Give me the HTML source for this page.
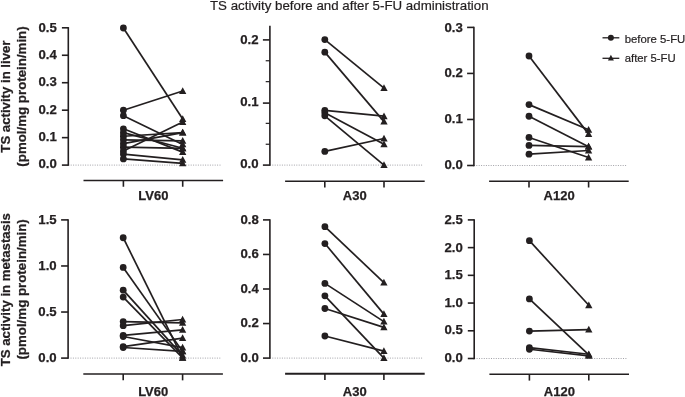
<!DOCTYPE html>
<html><head><meta charset="utf-8"><title>TS activity</title>
<style>html,body{margin:0;padding:0;background:#fff}svg{display:block;will-change:transform}text{font-family:"Liberation Sans",sans-serif;fill:#231f20}.b{stroke:#231f20;stroke-width:0.25px}.r{stroke:#231f20;stroke-width:0.2px}</style></head><body>
<svg width="685" height="397" viewBox="0 0 685 397">
<rect width="685" height="397" fill="#fff"/>
<text x="210.0" y="10.1" font-size="13.3" class="r">TS activity before and after 5-FU administration</text>
<text transform="translate(10.0 96.6) rotate(-90)" font-size="13.2" font-weight="bold" text-anchor="middle" class="b">TS activity in liver</text>
<text transform="translate(25.6 96.5) rotate(-90)" font-size="13.3" font-weight="bold" text-anchor="middle" class="b">(pmol/mg protein/min)</text>
<text transform="translate(10.0 289.65) rotate(-90)" font-size="13.2" font-weight="bold" text-anchor="middle" class="b">TS activity in metastasis</text>
<text transform="translate(25.6 289.4) rotate(-90)" font-size="13.3" font-weight="bold" text-anchor="middle" class="b">(pmol/mg protein/min)</text>
<g><line x1="68.3" y1="165.1" x2="221.50" y2="165.1" stroke="#a2a2a8" stroke-width="1" stroke-dasharray="1 1.4"/>
<line x1="68.3" y1="27.10" x2="68.3" y2="165.80" stroke="#231f20" stroke-width="1.6"/>
<line x1="61.90" y1="165.10" x2="68.30" y2="165.10" stroke="#231f20" stroke-width="1.6"/>
<text x="56.75" y="168.00" font-size="13.2" font-weight="bold" text-anchor="end" class="b">0.0</text>
<line x1="61.90" y1="137.64" x2="68.30" y2="137.64" stroke="#231f20" stroke-width="1.6"/>
<text x="56.75" y="140.82" font-size="13.2" font-weight="bold" text-anchor="end" class="b">0.1</text>
<line x1="61.90" y1="110.18" x2="68.30" y2="110.18" stroke="#231f20" stroke-width="1.6"/>
<text x="56.75" y="113.64" font-size="13.2" font-weight="bold" text-anchor="end" class="b">0.2</text>
<line x1="61.90" y1="82.72" x2="68.30" y2="82.72" stroke="#231f20" stroke-width="1.6"/>
<text x="56.75" y="86.46" font-size="13.2" font-weight="bold" text-anchor="end" class="b">0.3</text>
<line x1="61.90" y1="55.26" x2="68.30" y2="55.26" stroke="#231f20" stroke-width="1.6"/>
<text x="56.75" y="59.28" font-size="13.2" font-weight="bold" text-anchor="end" class="b">0.4</text>
<line x1="61.90" y1="27.80" x2="68.30" y2="27.80" stroke="#231f20" stroke-width="1.6"/>
<text x="56.75" y="32.10" font-size="13.2" font-weight="bold" text-anchor="end" class="b">0.5</text>
<line x1="83.50" y1="180.45" x2="223.10" y2="180.45" stroke="#231f20" stroke-width="1.5"/>
<line x1="123.40" y1="180.45" x2="123.40" y2="186.75" stroke="#231f20" stroke-width="1.6"/>
<line x1="182.70" y1="180.45" x2="182.70" y2="186.75" stroke="#231f20" stroke-width="1.6"/>
<text x="153.35" y="200.4" font-size="13.0" font-weight="bold" text-anchor="middle" class="b">LV60</text>
<line x1="123.40" y1="28.00" x2="182.70" y2="118.97" stroke="#231f20" stroke-width="1.7"/>
<line x1="123.40" y1="110.20" x2="182.70" y2="91.02" stroke="#231f20" stroke-width="1.7"/>
<line x1="123.40" y1="115.68" x2="182.70" y2="144.45" stroke="#231f20" stroke-width="1.7"/>
<line x1="123.40" y1="128.83" x2="182.70" y2="152.12" stroke="#231f20" stroke-width="1.7"/>
<line x1="123.40" y1="132.67" x2="182.70" y2="148.29" stroke="#231f20" stroke-width="1.7"/>
<line x1="123.40" y1="136.23" x2="182.70" y2="132.67" stroke="#231f20" stroke-width="1.7"/>
<line x1="123.40" y1="139.79" x2="182.70" y2="140.89" stroke="#231f20" stroke-width="1.7"/>
<line x1="123.40" y1="143.63" x2="182.70" y2="132.67" stroke="#231f20" stroke-width="1.7"/>
<line x1="123.40" y1="147.19" x2="182.70" y2="148.29" stroke="#231f20" stroke-width="1.7"/>
<line x1="123.40" y1="151.03" x2="182.70" y2="121.98" stroke="#231f20" stroke-width="1.7"/>
<line x1="123.40" y1="154.04" x2="182.70" y2="159.79" stroke="#231f20" stroke-width="1.7"/>
<line x1="123.40" y1="158.97" x2="182.70" y2="163.36" stroke="#231f20" stroke-width="1.7"/>
<circle cx="123.40" cy="28.00" r="3.4" fill="#231f20"/>
<g fill="#231f20"><path d="M179.05 121.89L186.35 121.89L182.70 115.14Z"/></g>
<circle cx="123.40" cy="110.20" r="3.4" fill="#231f20"/>
<g fill="#231f20"><path d="M179.05 93.94L186.35 93.94L182.70 87.19Z"/></g>
<circle cx="123.40" cy="115.68" r="3.4" fill="#231f20"/>
<g fill="#231f20"><path d="M179.05 147.37L186.35 147.37L182.70 140.62Z"/></g>
<circle cx="123.40" cy="128.83" r="3.4" fill="#231f20"/>
<g fill="#231f20"><path d="M179.05 155.04L186.35 155.04L182.70 148.29Z"/></g>
<circle cx="123.40" cy="132.67" r="3.4" fill="#231f20"/>
<g fill="#231f20"><path d="M179.05 151.21L186.35 151.21L182.70 144.45Z"/></g>
<circle cx="123.40" cy="136.23" r="3.4" fill="#231f20"/>
<g fill="#231f20"><path d="M179.05 135.59L186.35 135.59L182.70 128.84Z"/></g>
<circle cx="123.40" cy="139.79" r="3.4" fill="#231f20"/>
<g fill="#231f20"><path d="M179.05 143.81L186.35 143.81L182.70 137.06Z"/></g>
<circle cx="123.40" cy="143.63" r="3.4" fill="#231f20"/>
<g fill="#231f20"><path d="M179.05 135.59L186.35 135.59L182.70 128.84Z"/></g>
<circle cx="123.40" cy="147.19" r="3.4" fill="#231f20"/>
<g fill="#231f20"><path d="M179.05 151.21L186.35 151.21L182.70 144.45Z"/></g>
<circle cx="123.40" cy="151.03" r="3.4" fill="#231f20"/>
<g fill="#231f20"><path d="M179.05 124.90L186.35 124.90L182.70 118.15Z"/></g>
<circle cx="123.40" cy="154.04" r="3.4" fill="#231f20"/>
<g fill="#231f20"><path d="M179.05 162.71L186.35 162.71L182.70 155.96Z"/></g>
<circle cx="123.40" cy="158.97" r="3.4" fill="#231f20"/>
<g fill="#231f20"><path d="M179.05 166.28L186.35 166.28L182.70 159.52Z"/></g></g>
<g><line x1="269.9" y1="165.1" x2="423.10" y2="165.1" stroke="#a2a2a8" stroke-width="1" stroke-dasharray="1 1.4"/>
<line x1="269.9" y1="25.70" x2="269.9" y2="165.80" stroke="#231f20" stroke-width="1.6"/>
<line x1="262.90" y1="165.10" x2="269.90" y2="165.10" stroke="#231f20" stroke-width="1.6"/>
<text x="258.55" y="168.20" font-size="13.2" font-weight="bold" text-anchor="end" class="b">0.0</text>
<line x1="262.90" y1="103.10" x2="269.90" y2="103.10" stroke="#231f20" stroke-width="1.6"/>
<text x="258.55" y="105.85" font-size="13.2" font-weight="bold" text-anchor="end" class="b">0.1</text>
<line x1="262.90" y1="39.90" x2="269.90" y2="39.90" stroke="#231f20" stroke-width="1.6"/>
<text x="258.55" y="43.50" font-size="13.2" font-weight="bold" text-anchor="end" class="b">0.2</text>
<line x1="265.70" y1="144.25" x2="269.90" y2="144.25" stroke="#231f20" stroke-width="1.2"/>
<line x1="265.70" y1="123.35" x2="269.90" y2="123.35" stroke="#231f20" stroke-width="1.2"/>
<line x1="265.70" y1="81.65" x2="269.90" y2="81.65" stroke="#231f20" stroke-width="1.2"/>
<line x1="265.70" y1="60.75" x2="269.90" y2="60.75" stroke="#231f20" stroke-width="1.2"/>
<line x1="285.10" y1="181.2" x2="424.70" y2="181.2" stroke="#231f20" stroke-width="1.5"/>
<line x1="324.80" y1="181.2" x2="324.80" y2="187.50" stroke="#231f20" stroke-width="1.6"/>
<line x1="384.00" y1="181.2" x2="384.00" y2="187.50" stroke="#231f20" stroke-width="1.6"/>
<text x="354.70" y="200.4" font-size="13.0" font-weight="bold" text-anchor="middle" class="b">A30</text>
<line x1="324.80" y1="39.60" x2="384.00" y2="88.14" stroke="#231f20" stroke-width="1.7"/>
<line x1="324.80" y1="52.16" x2="384.00" y2="121.62" stroke="#231f20" stroke-width="1.7"/>
<line x1="324.80" y1="110.31" x2="384.00" y2="116.22" stroke="#231f20" stroke-width="1.7"/>
<line x1="324.80" y1="112.82" x2="384.00" y2="144.29" stroke="#231f20" stroke-width="1.7"/>
<line x1="324.80" y1="115.84" x2="384.00" y2="165.20" stroke="#231f20" stroke-width="1.7"/>
<line x1="324.80" y1="151.38" x2="384.00" y2="138.51" stroke="#231f20" stroke-width="1.7"/>
<circle cx="324.80" cy="39.60" r="3.4" fill="#231f20"/>
<g fill="#231f20"><path d="M380.35 91.06L387.65 91.06L384.00 84.31Z"/></g>
<circle cx="324.80" cy="52.16" r="3.4" fill="#231f20"/>
<g fill="#231f20"><path d="M380.35 124.54L387.65 124.54L384.00 117.78Z"/></g>
<circle cx="324.80" cy="110.31" r="3.4" fill="#231f20"/>
<g fill="#231f20"><path d="M380.35 119.14L387.65 119.14L384.00 112.38Z"/></g>
<circle cx="324.80" cy="112.82" r="3.4" fill="#231f20"/>
<g fill="#231f20"><path d="M380.35 147.21L387.65 147.21L384.00 140.46Z"/></g>
<circle cx="324.80" cy="115.84" r="3.4" fill="#231f20"/>
<g fill="#231f20"><path d="M380.35 168.12L387.65 168.12L384.00 161.37Z"/></g>
<circle cx="324.80" cy="151.38" r="3.4" fill="#231f20"/>
<g fill="#231f20"><path d="M380.35 141.43L387.65 141.43L384.00 134.68Z"/></g></g>
<g><line x1="473.9" y1="165.5" x2="627.10" y2="165.5" stroke="#a2a2a8" stroke-width="1" stroke-dasharray="1 1.4"/>
<line x1="473.9" y1="26.70" x2="473.9" y2="166.20" stroke="#231f20" stroke-width="1.6"/>
<line x1="467.10" y1="165.50" x2="473.90" y2="165.50" stroke="#231f20" stroke-width="1.6"/>
<text x="462.75" y="168.50" font-size="13.2" font-weight="bold" text-anchor="end" class="b">0.0</text>
<line x1="467.10" y1="119.47" x2="473.90" y2="119.47" stroke="#231f20" stroke-width="1.6"/>
<text x="462.75" y="122.93" font-size="13.2" font-weight="bold" text-anchor="end" class="b">0.1</text>
<line x1="467.10" y1="73.43" x2="473.90" y2="73.43" stroke="#231f20" stroke-width="1.6"/>
<text x="462.75" y="77.37" font-size="13.2" font-weight="bold" text-anchor="end" class="b">0.2</text>
<line x1="467.10" y1="27.40" x2="473.90" y2="27.40" stroke="#231f20" stroke-width="1.6"/>
<text x="462.75" y="31.80" font-size="13.2" font-weight="bold" text-anchor="end" class="b">0.3</text>
<line x1="489.10" y1="181.2" x2="628.70" y2="181.2" stroke="#231f20" stroke-width="1.5"/>
<line x1="529.00" y1="181.2" x2="529.00" y2="187.50" stroke="#231f20" stroke-width="1.6"/>
<line x1="588.60" y1="181.2" x2="588.60" y2="187.50" stroke="#231f20" stroke-width="1.6"/>
<text x="559.10" y="200.4" font-size="13.0" font-weight="bold" text-anchor="middle" class="b" textLength="31.4">A120</text>
<line x1="529.00" y1="55.98" x2="588.60" y2="134.12" stroke="#231f20" stroke-width="1.7"/>
<line x1="529.00" y1="104.62" x2="588.60" y2="129.79" stroke="#231f20" stroke-width="1.7"/>
<line x1="529.00" y1="116.23" x2="588.60" y2="146.66" stroke="#231f20" stroke-width="1.7"/>
<line x1="529.00" y1="137.44" x2="588.60" y2="157.49" stroke="#231f20" stroke-width="1.7"/>
<line x1="529.00" y1="145.42" x2="588.60" y2="146.66" stroke="#231f20" stroke-width="1.7"/>
<line x1="529.00" y1="154.22" x2="588.60" y2="150.49" stroke="#231f20" stroke-width="1.7"/>
<circle cx="529.00" cy="55.98" r="3.4" fill="#231f20"/>
<g fill="#231f20"><path d="M584.95 137.04L592.25 137.04L588.60 130.29Z"/></g>
<circle cx="529.00" cy="104.62" r="3.4" fill="#231f20"/>
<g fill="#231f20"><path d="M584.95 132.71L592.25 132.71L588.60 125.95Z"/></g>
<circle cx="529.00" cy="116.23" r="3.4" fill="#231f20"/>
<g fill="#231f20"><path d="M584.95 149.58L592.25 149.58L588.60 142.83Z"/></g>
<circle cx="529.00" cy="137.44" r="3.4" fill="#231f20"/>
<g fill="#231f20"><path d="M584.95 160.41L592.25 160.41L588.60 153.66Z"/></g>
<circle cx="529.00" cy="145.42" r="3.4" fill="#231f20"/>
<g fill="#231f20"><path d="M584.95 149.58L592.25 149.58L588.60 142.83Z"/></g>
<circle cx="529.00" cy="154.22" r="3.4" fill="#231f20"/>
<g fill="#231f20"><path d="M584.95 153.41L592.25 153.41L588.60 146.65Z"/></g></g>
<g><line x1="68.1" y1="358.1" x2="221.30" y2="358.1" stroke="#a2a2a8" stroke-width="1" stroke-dasharray="1 1.4"/>
<line x1="68.1" y1="219.20" x2="68.1" y2="358.80" stroke="#231f20" stroke-width="1.6"/>
<line x1="61.10" y1="358.10" x2="68.10" y2="358.10" stroke="#231f20" stroke-width="1.6"/>
<text x="56.65" y="361.50" font-size="13.2" font-weight="bold" text-anchor="end" class="b">0.0</text>
<line x1="61.10" y1="312.03" x2="68.10" y2="312.03" stroke="#231f20" stroke-width="1.6"/>
<text x="56.65" y="315.67" font-size="13.2" font-weight="bold" text-anchor="end" class="b">0.5</text>
<line x1="61.10" y1="265.97" x2="68.10" y2="265.97" stroke="#231f20" stroke-width="1.6"/>
<text x="56.65" y="269.83" font-size="13.2" font-weight="bold" text-anchor="end" class="b">1.0</text>
<line x1="61.10" y1="219.90" x2="68.10" y2="219.90" stroke="#231f20" stroke-width="1.6"/>
<text x="56.65" y="224.00" font-size="13.2" font-weight="bold" text-anchor="end" class="b">1.5</text>
<line x1="83.30" y1="374.05" x2="222.90" y2="374.05" stroke="#231f20" stroke-width="1.5"/>
<line x1="123.20" y1="374.05" x2="123.20" y2="380.35" stroke="#231f20" stroke-width="1.6"/>
<line x1="182.60" y1="374.05" x2="182.60" y2="380.35" stroke="#231f20" stroke-width="1.6"/>
<text x="153.20" y="396.3" font-size="13.0" font-weight="bold" text-anchor="middle" class="b">LV60</text>
<line x1="123.20" y1="237.73" x2="182.60" y2="357.80" stroke="#231f20" stroke-width="1.7"/>
<line x1="123.20" y1="267.47" x2="182.60" y2="351.37" stroke="#231f20" stroke-width="1.7"/>
<line x1="123.20" y1="290.14" x2="182.60" y2="355.60" stroke="#231f20" stroke-width="1.7"/>
<line x1="123.20" y1="297.12" x2="182.60" y2="357.80" stroke="#231f20" stroke-width="1.7"/>
<line x1="123.20" y1="321.54" x2="182.60" y2="322.92" stroke="#231f20" stroke-width="1.7"/>
<line x1="123.20" y1="325.67" x2="182.60" y2="319.52" stroke="#231f20" stroke-width="1.7"/>
<line x1="123.20" y1="335.31" x2="182.60" y2="329.80" stroke="#231f20" stroke-width="1.7"/>
<line x1="123.20" y1="336.50" x2="182.60" y2="347.70" stroke="#231f20" stroke-width="1.7"/>
<line x1="123.20" y1="346.60" x2="182.60" y2="338.06" stroke="#231f20" stroke-width="1.7"/>
<line x1="123.20" y1="347.52" x2="182.60" y2="351.37" stroke="#231f20" stroke-width="1.7"/>
<circle cx="123.20" cy="237.73" r="3.4" fill="#231f20"/>
<g fill="#231f20"><path d="M178.95 360.72L186.25 360.72L182.60 353.97Z"/></g>
<circle cx="123.20" cy="267.47" r="3.4" fill="#231f20"/>
<g fill="#231f20"><path d="M178.95 354.29L186.25 354.29L182.60 347.54Z"/></g>
<circle cx="123.20" cy="290.14" r="3.4" fill="#231f20"/>
<g fill="#231f20"><path d="M178.95 358.52L186.25 358.52L182.60 351.76Z"/></g>
<circle cx="123.20" cy="297.12" r="3.4" fill="#231f20"/>
<g fill="#231f20"><path d="M178.95 360.72L186.25 360.72L182.60 353.97Z"/></g>
<circle cx="123.20" cy="321.54" r="3.4" fill="#231f20"/>
<g fill="#231f20"><path d="M178.95 325.84L186.25 325.84L182.60 319.08Z"/></g>
<circle cx="123.20" cy="325.67" r="3.4" fill="#231f20"/>
<g fill="#231f20"><path d="M178.95 322.44L186.25 322.44L182.60 315.69Z"/></g>
<circle cx="123.20" cy="335.31" r="3.4" fill="#231f20"/>
<g fill="#231f20"><path d="M178.95 332.72L186.25 332.72L182.60 325.97Z"/></g>
<circle cx="123.20" cy="336.50" r="3.4" fill="#231f20"/>
<g fill="#231f20"><path d="M178.95 350.62L186.25 350.62L182.60 343.87Z"/></g>
<circle cx="123.20" cy="346.60" r="3.4" fill="#231f20"/>
<g fill="#231f20"><path d="M178.95 340.98L186.25 340.98L182.60 334.23Z"/></g>
<circle cx="123.20" cy="347.52" r="3.4" fill="#231f20"/>
<g fill="#231f20"><path d="M178.95 354.29L186.25 354.29L182.60 347.54Z"/></g></g>
<g><line x1="269.9" y1="358.1" x2="423.10" y2="358.1" stroke="#a2a2a8" stroke-width="1" stroke-dasharray="1 1.4"/>
<line x1="269.9" y1="219.20" x2="269.9" y2="358.80" stroke="#231f20" stroke-width="1.6"/>
<line x1="263.00" y1="358.10" x2="269.90" y2="358.10" stroke="#231f20" stroke-width="1.6"/>
<text x="258.75" y="361.50" font-size="13.2" font-weight="bold" text-anchor="end" class="b">0.0</text>
<line x1="263.00" y1="323.55" x2="269.90" y2="323.55" stroke="#231f20" stroke-width="1.6"/>
<text x="258.75" y="327.12" font-size="13.2" font-weight="bold" text-anchor="end" class="b">0.2</text>
<line x1="263.00" y1="289.00" x2="269.90" y2="289.00" stroke="#231f20" stroke-width="1.6"/>
<text x="258.75" y="292.75" font-size="13.2" font-weight="bold" text-anchor="end" class="b">0.4</text>
<line x1="263.00" y1="254.45" x2="269.90" y2="254.45" stroke="#231f20" stroke-width="1.6"/>
<text x="258.75" y="258.38" font-size="13.2" font-weight="bold" text-anchor="end" class="b">0.6</text>
<line x1="263.00" y1="219.90" x2="269.90" y2="219.90" stroke="#231f20" stroke-width="1.6"/>
<text x="258.75" y="224.00" font-size="13.2" font-weight="bold" text-anchor="end" class="b">0.8</text>
<line x1="285.10" y1="373.8" x2="424.70" y2="373.8" stroke="#231f20" stroke-width="2.0"/>
<line x1="324.90" y1="373.8" x2="324.90" y2="380.10" stroke="#231f20" stroke-width="1.6"/>
<line x1="383.90" y1="373.8" x2="383.90" y2="380.10" stroke="#231f20" stroke-width="1.6"/>
<text x="354.70" y="396.3" font-size="13.0" font-weight="bold" text-anchor="middle" class="b">A30</text>
<line x1="324.90" y1="226.66" x2="383.90" y2="282.60" stroke="#231f20" stroke-width="1.7"/>
<line x1="324.90" y1="243.56" x2="383.90" y2="314.11" stroke="#231f20" stroke-width="1.7"/>
<line x1="324.90" y1="283.41" x2="383.90" y2="321.60" stroke="#231f20" stroke-width="1.7"/>
<line x1="324.90" y1="295.83" x2="383.90" y2="358.10" stroke="#231f20" stroke-width="1.7"/>
<line x1="324.90" y1="308.51" x2="383.90" y2="327.40" stroke="#231f20" stroke-width="1.7"/>
<line x1="324.90" y1="336.02" x2="383.90" y2="351.10" stroke="#231f20" stroke-width="1.7"/>
<circle cx="324.90" cy="226.66" r="3.4" fill="#231f20"/>
<g fill="#231f20"><path d="M380.25 285.52L387.55 285.52L383.90 278.76Z"/></g>
<circle cx="324.90" cy="243.56" r="3.4" fill="#231f20"/>
<g fill="#231f20"><path d="M380.25 317.03L387.55 317.03L383.90 310.28Z"/></g>
<circle cx="324.90" cy="283.41" r="3.4" fill="#231f20"/>
<g fill="#231f20"><path d="M380.25 324.52L387.55 324.52L383.90 317.77Z"/></g>
<circle cx="324.90" cy="295.83" r="3.4" fill="#231f20"/>
<g fill="#231f20"><path d="M380.25 361.02L387.55 361.02L383.90 354.27Z"/></g>
<circle cx="324.90" cy="308.51" r="3.4" fill="#231f20"/>
<g fill="#231f20"><path d="M380.25 330.32L387.55 330.32L383.90 323.56Z"/></g>
<circle cx="324.90" cy="336.02" r="3.4" fill="#231f20"/>
<g fill="#231f20"><path d="M380.25 354.02L387.55 354.02L383.90 347.26Z"/></g></g>
<g><line x1="474.2" y1="358.5" x2="627.40" y2="358.5" stroke="#a2a2a8" stroke-width="1" stroke-dasharray="1 1.4"/>
<line x1="474.2" y1="219.20" x2="474.2" y2="359.20" stroke="#231f20" stroke-width="1.6"/>
<line x1="467.80" y1="358.50" x2="474.20" y2="358.50" stroke="#231f20" stroke-width="1.6"/>
<text x="462.75" y="361.50" font-size="13.2" font-weight="bold" text-anchor="end" class="b">0.0</text>
<line x1="467.80" y1="330.78" x2="474.20" y2="330.78" stroke="#231f20" stroke-width="1.6"/>
<text x="462.75" y="334.00" font-size="13.2" font-weight="bold" text-anchor="end" class="b">0.5</text>
<line x1="467.80" y1="303.06" x2="474.20" y2="303.06" stroke="#231f20" stroke-width="1.6"/>
<text x="462.75" y="306.50" font-size="13.2" font-weight="bold" text-anchor="end" class="b">1.0</text>
<line x1="467.80" y1="275.34" x2="474.20" y2="275.34" stroke="#231f20" stroke-width="1.6"/>
<text x="462.75" y="279.00" font-size="13.2" font-weight="bold" text-anchor="end" class="b">1.5</text>
<line x1="467.80" y1="247.62" x2="474.20" y2="247.62" stroke="#231f20" stroke-width="1.6"/>
<text x="462.75" y="251.50" font-size="13.2" font-weight="bold" text-anchor="end" class="b">2.0</text>
<line x1="467.80" y1="219.90" x2="474.20" y2="219.90" stroke="#231f20" stroke-width="1.6"/>
<text x="462.75" y="224.00" font-size="13.2" font-weight="bold" text-anchor="end" class="b">2.5</text>
<line x1="489.40" y1="374.3" x2="629.00" y2="374.3" stroke="#231f20" stroke-width="1.5"/>
<line x1="529.40" y1="374.3" x2="529.40" y2="380.60" stroke="#231f20" stroke-width="1.6"/>
<line x1="588.80" y1="374.3" x2="588.80" y2="380.60" stroke="#231f20" stroke-width="1.6"/>
<text x="559.40" y="396.3" font-size="13.0" font-weight="bold" text-anchor="middle" class="b" textLength="31.4">A120</text>
<line x1="529.40" y1="240.69" x2="588.80" y2="305.22" stroke="#231f20" stroke-width="1.7"/>
<line x1="529.40" y1="298.93" x2="588.80" y2="354.79" stroke="#231f20" stroke-width="1.7"/>
<line x1="529.40" y1="331.11" x2="588.80" y2="329.62" stroke="#231f20" stroke-width="1.7"/>
<line x1="529.40" y1="347.61" x2="588.80" y2="354.24" stroke="#231f20" stroke-width="1.7"/>
<line x1="529.40" y1="349.27" x2="588.80" y2="355.89" stroke="#231f20" stroke-width="1.7"/>
<circle cx="529.40" cy="240.69" r="3.4" fill="#231f20"/>
<g fill="#231f20"><path d="M585.15 308.14L592.45 308.14L588.80 301.39Z"/></g>
<circle cx="529.40" cy="298.93" r="3.4" fill="#231f20"/>
<g fill="#231f20"><path d="M585.15 357.71L592.45 357.71L588.80 350.96Z"/></g>
<circle cx="529.40" cy="331.11" r="3.4" fill="#231f20"/>
<g fill="#231f20"><path d="M585.15 332.54L592.45 332.54L588.80 325.78Z"/></g>
<circle cx="529.40" cy="347.61" r="3.4" fill="#231f20"/>
<g fill="#231f20"><path d="M585.15 357.16L592.45 357.16L588.80 350.40Z"/></g>
<circle cx="529.40" cy="349.27" r="3.4" fill="#231f20"/>
<g fill="#231f20"><path d="M585.15 358.81L592.45 358.81L588.80 352.06Z"/></g></g>
<line x1="602.5" y1="37.8" x2="619.3" y2="37.8" stroke="#231f20" stroke-width="1.3"/><circle cx="610.9" cy="37.8" r="3.0" fill="#231f20"/>
<text x="624.7" y="42.8" font-size="11.4" textLength="60.6" lengthAdjust="spacingAndGlyphs" class="r">before 5-FU</text>
<line x1="602.5" y1="58.3" x2="619.3" y2="58.3" stroke="#231f20" stroke-width="1.3"/><g fill="#231f20"><path d="M607.90 60.40L613.90 60.40L610.90 54.85Z"/></g>
<text x="624.7" y="62.3" font-size="11.4" textLength="51.0" lengthAdjust="spacingAndGlyphs" class="r">after 5-FU</text>
</svg></body></html>
